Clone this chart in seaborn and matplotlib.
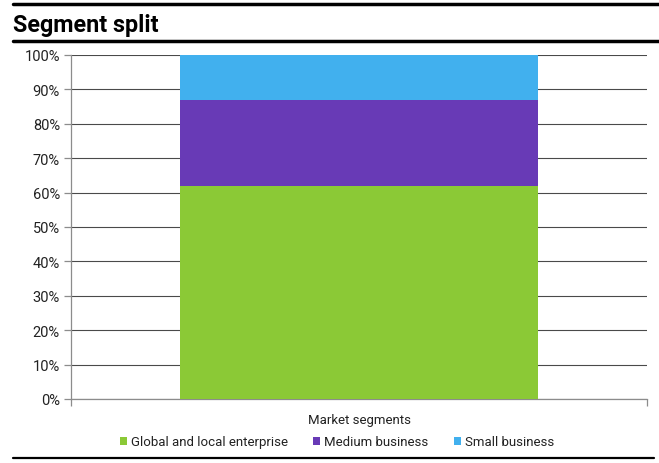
import matplotlib
matplotlib.use("Agg")
import matplotlib.pyplot as plt
import seaborn as sns
import pandas as pd
from matplotlib.lines import Line2D
from matplotlib.patches import Patch

# Segment shares (percent of total)
category = ["Market segments"]
segments = ["Global and local enterprise", "Medium business", "Small business"]
shares = [62, 25, 13]
colors = ["#8BC936", "#683AB6", "#41B0EE"]
y_ticks = [0, 10, 20, 30, 40, 50, 60, 70, 80, 90, 100]

sns.set_theme(style="white")
plt.rcParams["font.family"] = ["Roboto", "DejaVu Sans"]

fig = plt.figure(figsize=(6.59, 4.64), dpi=100)
ax = fig.add_axes([71 / 659, 1 - 400 / 464, 576 / 659, 344 / 464])

# Stacked bar: draw cumulative totals from the top layer down
cum = []
total = 0
for s in shares:
    total += s
    cum.append(total)
for seg, top, col in reversed(list(zip(segments, cum, colors))):
    df = pd.DataFrame({"cat": category, "val": [top]})
    sns.barplot(data=df, x="cat", y="val", color=col, saturation=1,
                width=0.623, ax=ax, zorder=3, linewidth=0)

ax.set_xlim(-0.5, 0.5)
ax.set_ylim(0, 100)
ax.set_yticks(y_ticks)
ax.set_yticklabels([f"{t}%" for t in y_ticks])
ax.yaxis.grid(True, color="#4a4a4a", linewidth=0.8, zorder=0)
ax.set_axisbelow(True)
ax.set_xlabel("")
ax.set_ylabel("")

for side in ["top", "right"]:
    ax.spines[side].set_visible(False)
for side in ["left", "bottom"]:
    ax.spines[side].set_color("#8c8c8c")
    ax.spines[side].set_linewidth(0.9)

ax.tick_params(axis="y", left=True, length=5, width=0.9, color="#8c8c8c",
               labelsize=10.5, labelcolor="#222222", pad=3)
ax.tick_params(axis="x", bottom=False, labelsize=9.5, labelcolor="#222222", pad=4)
ax.set_xticks([-0.5, 0.5], minor=True)
ax.tick_params(axis="x", which="minor", bottom=True, length=5, width=0.9,
               color="#8c8c8c")

handles = [Patch(facecolor=c, edgecolor="none") for c in colors]
fig.legend(handles, segments, loc="center", bbox_to_anchor=(337 / 659, 1 - 443 / 464),
           ncol=3, frameon=False, fontsize=9.5, handlelength=0.55, handleheight=0.55,
           handletextpad=0.3, columnspacing=1.9, labelcolor="#222222",
           borderpad=0, borderaxespad=0)

# Header and rules
fig.text(13 / 659, 1 - 32 / 464, "Segment split", fontsize=16.8, fontweight="bold",
         va="baseline", ha="left", color="#000000")
fig.add_artist(Line2D([13 / 659, 1.0], [1 - 5 / 464] * 2, color="black", linewidth=2.5))
fig.add_artist(Line2D([13 / 659, 1.0], [1 - 41.5 / 464] * 2, color="black", linewidth=2.5))
fig.add_artist(Line2D([13 / 659, 654 / 659], [1 - 459 / 464] * 2, color="black", linewidth=1.6))

fig.savefig("out.png", dpi=100)
